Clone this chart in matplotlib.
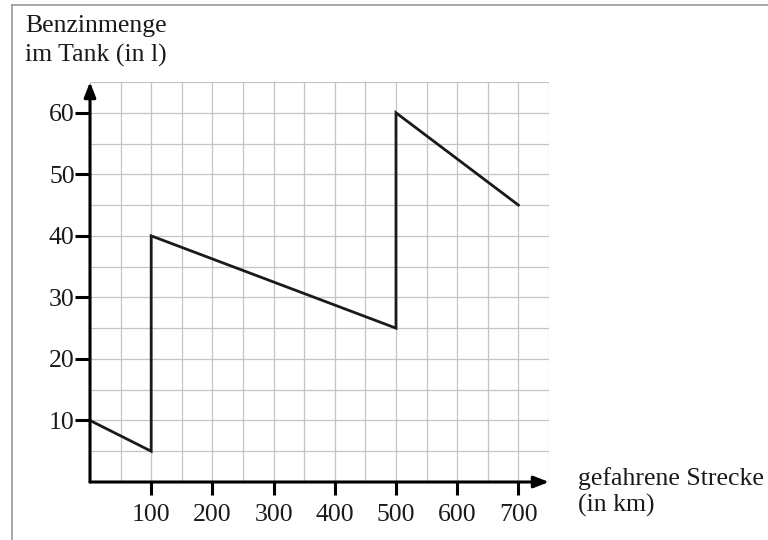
import matplotlib
matplotlib.use("Agg")
import matplotlib.pyplot as plt
import numpy as np
from matplotlib.lines import Line2D

distance_km = [0, 100, 100, 500, 500, 700]
fuel_l = [10, 5, 40, 25, 60, 45]
x_ticks = [100, 200, 300, 400, 500, 600, 700]
y_ticks = [10, 20, 30, 40, 50, 60]

plt.rcParams['font.family'] = ['Liberation Serif', 'DejaVu Serif']

fig = plt.figure(figsize=(7.68, 5.4), dpi=100)
ax = fig.add_axes([90/768, 58/540, 459/768, 400/540])
ax.set_xlim(0, 750)
ax.set_ylim(0, 65)

ax.set_xticks(np.arange(0, 751, 50), minor=True)
ax.set_yticks(np.arange(0, 66, 5), minor=True)
ax.set_xticks(x_ticks)
ax.set_yticks(y_ticks)
ax.grid(which='both', color='#c4c4c4', linewidth=0.9)
ax.set_axisbelow(True)
ax.tick_params(which='minor', length=0)
ax.tick_params(which='major', direction='out', width=2.2, color='black', labelsize=18.5,
               labelcolor='#1a1a1a')
ax.tick_params(axis='x', length=9, pad=7)
ax.tick_params(axis='y', length=11, pad=0)
for s in ax.spines.values():
    s.set_visible(False)

ax.plot(distance_km, fuel_l, color='#1a1a1a', linewidth=2.0, zorder=3, solid_joinstyle='miter')

# axes with arrows
ax.annotate('', xy=(1.0, 0), xytext=(0, 0), xycoords='axes fraction',
            arrowprops=dict(arrowstyle='-|>,head_length=0.9,head_width=0.35', color='black', lw=2.2,
                            shrinkA=0, shrinkB=0), annotation_clip=False, zorder=5)
ax.annotate('', xy=(0, 1.0), xytext=(0, 0), xycoords='axes fraction',
            arrowprops=dict(arrowstyle='-|>,head_length=0.9,head_width=0.35', color='black', lw=2.2,
                            shrinkA=0, shrinkB=0), annotation_clip=False, zorder=5)

fig.text(25/768, 1 - 15/540, 'Benzinmenge\nim Tank (in l)', ha='left', va='top',
         fontsize=18.5, linespacing=1.4, color='#1a1a1a')
fig.text(578/768, 1 - 467/540, 'gefahrene Strecke\n(in km)', ha='left', va='top',
         fontsize=18.5, linespacing=1.2, color='#1a1a1a')

# frame lines
fig.add_artist(Line2D([12/768, 1], [1 - 5/540, 1 - 5/540], transform=fig.transFigure,
                      color='#9a9a9a', linewidth=1.2))
fig.add_artist(Line2D([12/768, 12/768], [0, 1 - 5/540], transform=fig.transFigure,
                      color='#9a9a9a', linewidth=1.2))

fig.savefig('out.png', dpi=100)
